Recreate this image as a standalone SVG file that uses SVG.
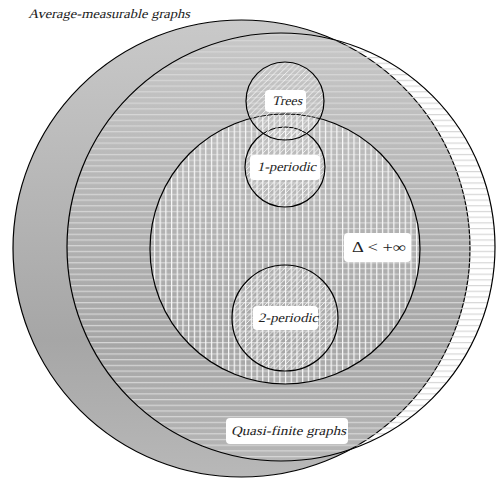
<svg xmlns="http://www.w3.org/2000/svg" width="496" height="479" viewBox="0 0 496 479">
<defs>
<linearGradient id="gA" gradientUnits="userSpaceOnUse" x1="0" y1="20" x2="0" y2="477">
<stop offset="0" stop-color="#c9c9c9"/>
<stop offset="0.7" stop-color="#a6a6a6"/>
<stop offset="1" stop-color="#b8b8b8"/>
</linearGradient>
<pattern id="ph" patternUnits="userSpaceOnUse" width="5.7" height="5.7">
<rect x="0" y="0" width="5.7" height="1.2" fill="#d6d6d6"/>
</pattern>
<pattern id="pv" patternUnits="userSpaceOnUse" width="5.7" height="5.7">
<rect x="0" y="0" width="1.2" height="5.7" fill="#f8f8f8"/>
</pattern>
<pattern id="pd" patternUnits="userSpaceOnUse" width="5.7" height="5.7">
<path d="M-1,6.7 L6.7,-1 M-1,1 L1,-1 M4.7,6.7 L6.7,4.7" stroke="#f6f6f6" stroke-width="0.9" fill="none"/>
</pattern>
</defs>
<style>
.ol{fill:none;stroke:#000;stroke-width:1.2}
.lb{fill:#fff}
.t{font-family:"Liberation Serif","Times New Roman",serif;font-size:13px;fill:#222}
.m{font-family:"Liberation Serif","Times New Roman",serif;font-size:14px;fill:#222}
</style>
<g id="average-measurable">
<circle cx="241.5" cy="248.5" r="228.5" fill="url(#gA)" stroke="#000" stroke-width="1.2"/>
<text class="t" transform="translate(28,18) skewX(-14)" textLength="162" lengthAdjust="spacingAndGlyphs">Average-measurable graphs</text>
</g>
<g id="quasi-finite">
<circle cx="281" cy="247" r="214" fill="url(#ph)"/>
<circle cx="281" cy="247" r="214" class="ol"/>
<rect class="lb" x="226" y="418" width="122" height="26" rx="4"/>
<text class="t" transform="translate(231,435) skewX(-14)" textLength="115" lengthAdjust="spacingAndGlyphs">Quasi-finite graphs</text>
</g>
<g id="bounded-degree">
<circle cx="285" cy="249" r="135" fill="url(#pv)"/>
<circle cx="285" cy="249" r="135" class="ol"/>
<rect class="lb" x="344" y="233" width="67" height="29" rx="4"/>
<text class="m" x="352" y="252" textLength="54" lengthAdjust="spacingAndGlyphs">Δ &lt; +∞</text>
</g>
<g id="one-periodic">
<circle cx="285" cy="167" r="40" fill="url(#pd)"/>
<circle cx="285" cy="167" r="40" class="ol"/>
<rect class="lb" x="250" y="155" width="70" height="25" rx="4"/>
<text class="t" transform="translate(257,171) skewX(-14)" textLength="59" lengthAdjust="spacingAndGlyphs">1-periodic</text>
</g>
<g id="two-periodic">
<circle cx="285" cy="318" r="53" fill="url(#pd)"/>
<circle cx="285" cy="318" r="53" class="ol"/>
<rect class="lb" x="253" y="306" width="65" height="24" rx="4"/>
<text class="t" transform="translate(258,322) skewX(-14)" textLength="60" lengthAdjust="spacingAndGlyphs">2-periodic</text>
</g>
<g id="trees">
<circle cx="285" cy="101" r="39" fill="url(#pd)"/>
<circle cx="285" cy="101" r="39" class="ol"/>
<rect class="lb" x="265" y="90" width="41" height="22" rx="4"/>
<text class="t" transform="translate(272,105) skewX(-14)" textLength="30" lengthAdjust="spacingAndGlyphs">Trees</text>
</g>
<g id="connectors"/>
</svg>
